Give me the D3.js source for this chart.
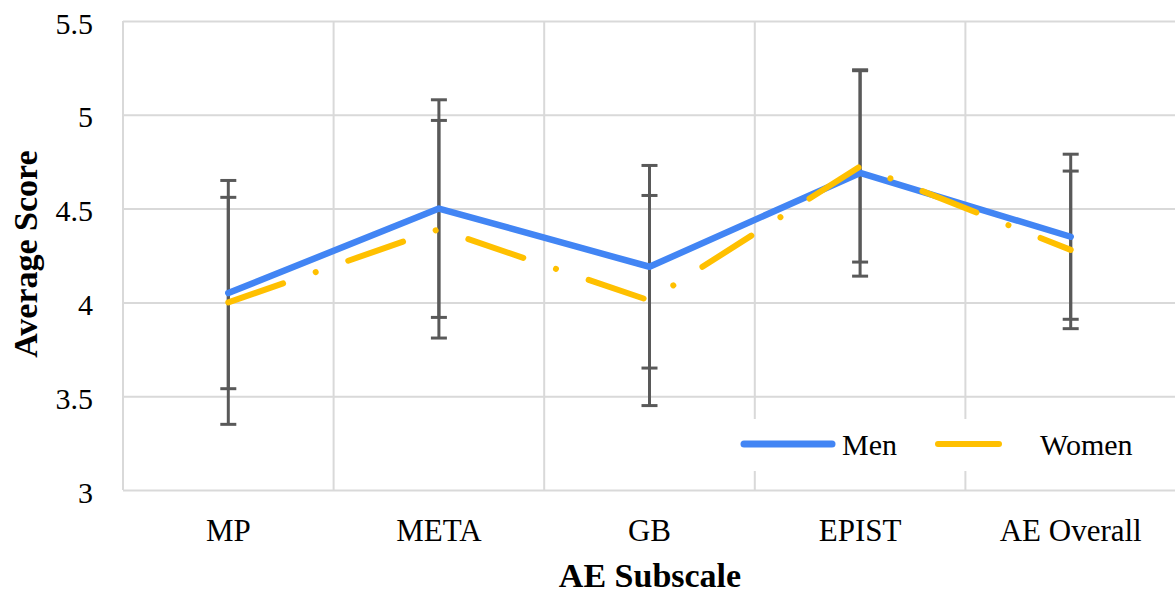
<!DOCTYPE html>
<html>
<head>
<meta charset="utf-8">
<script src="https://cdn.jsdelivr.net/npm/d3@7"></script>
<style>
  html, body { margin: 0; padding: 0; background: #fff; }
  svg { display: block; }
  svg text { font-family: "Liberation Serif", "Times New Roman", serif !important; fill: #000; }
</style>
</head>
<body>
<svg id="chart" width="1175" height="594"></svg>
<script>
// ---- data ----
const categories = ["MP", "META", "GB", "EPIST", "AE Overall"];
const menValues = [4.05, 4.50, 4.19, 4.69, 4.35];
const womenValues = [4.00, 4.39, 4.01, 4.725, 4.28];
const menErrors = [0.51, 0.58, 0.54, 0.55, 0.44];
const womenErrors = [0.65, 0.58, 0.56, 0.51, 0.42];
const yTicks = [3, 3.5, 4, 4.5, 5, 5.5];
const seriesNames = ["Men", "Women"];
const xTitle = "AE Subscale";
const yTitle = "Average Score";

(function () {
  // ---- layout ----
  const mLeft = 123, mRight = 1176, mTop = 21, mBottom = 490;
  const menColor = "#4285F4", womenColor = "#FFC000", errColor = "#595959", gridColor = "#d9d9d9";

  const svg = d3.select("#chart");
  const x = d3.scaleBand().domain(categories).range([mLeft, mRight]).padding(0);
  const y = d3.scaleLinear().domain([3, 5.5]).range([mBottom, mTop]);
  const cx = c => x(c) + x.bandwidth() / 2;

  // horizontal gridlines
  svg.append("g")
    .attr("transform", `translate(${mLeft},0)`)
    .call(d3.axisLeft(y).tickValues(yTicks).tickSize(-(mRight - mLeft)).tickFormat(""))
    .call(g => g.select(".domain").remove())
    .call(g => g.selectAll("line").attr("stroke", gridColor).attr("stroke-width", 2));

  // vertical gridlines at category boundaries
  const bounds = categories.map(c => x(c)).concat([mRight]);
  svg.append("g").selectAll("line").data(bounds).join("line")
    .attr("x1", d => d).attr("x2", d => d)
    .attr("y1", mTop).attr("y2", mBottom)
    .attr("stroke", gridColor).attr("stroke-width", 2);

  // y tick labels
  svg.append("g")
    .attr("transform", `translate(${mLeft},0)`)
    .call(d3.axisLeft(y).tickValues(yTicks).tickSize(0).tickPadding(30).tickFormat(d => String(d)))
    .call(g => g.select(".domain").remove())
    .call(g => g.selectAll("text")
      .attr("font-size", 30).attr("dy", "0.4em"));

  // x tick labels
  svg.append("g")
    .attr("transform", `translate(0,${mBottom})`)
    .call(d3.axisBottom(x).tickSize(0).tickPadding(0))
    .call(g => g.select(".domain").remove())
    .call(g => g.selectAll("text")
      .attr("font-size", 31).attr("y", 51).attr("dy", 0));

  // axis titles
  svg.append("text")
    .attr("text-anchor", "middle")
    .attr("x", 650).attr("y", 587)
    .attr("font-size", 34).attr("font-weight", "bold").text(xTitle);

  svg.append("text")
    .attr("transform", "translate(37,254) rotate(-90)")
    .attr("text-anchor", "middle")
    .attr("font-size", 34).attr("font-weight", "bold").text(yTitle);

  // error bars
  function drawErrors(vals, errs) {
    const g = svg.append("g").attr("stroke", errColor).attr("stroke-width", 3);
    const d = categories.map((c, i) => ({ c, v: vals[i], e: errs[i] }));
    g.selectAll(".v").data(d).join("line").attr("class", "v")
      .attr("x1", k => cx(k.c)).attr("x2", k => cx(k.c))
      .attr("y1", k => y(k.v + k.e)).attr("y2", k => y(k.v - k.e));
    g.selectAll(".cp").data(d).join("line").attr("class", "cp")
      .attr("x1", k => cx(k.c) - 8).attr("x2", k => cx(k.c) + 8)
      .attr("y1", k => y(k.v + k.e)).attr("y2", k => y(k.v + k.e));
    g.selectAll(".cm").data(d).join("line").attr("class", "cm")
      .attr("x1", k => cx(k.c) - 8).attr("x2", k => cx(k.c) + 8)
      .attr("y1", k => y(k.v - k.e)).attr("y2", k => y(k.v - k.e));
  }
  drawErrors(menValues, menErrors);
  drawErrors(womenValues, womenErrors);

  // lines
  const line = d3.line().x(d => cx(d.c)).y(d => y(d.v));
  svg.append("path")
    .datum(categories.map((c, i) => ({ c, v: menValues[i] })))
    .attr("d", line).attr("fill", "none")
    .attr("stroke", menColor).attr("stroke-width", 6.5)
    .attr("stroke-linejoin", "round").attr("stroke-linecap", "round");
  svg.append("path")
    .datum(categories.map((c, i) => ({ c, v: womenValues[i] })))
    .attr("d", line).attr("fill", "none")
    .attr("stroke", womenColor).attr("stroke-width", 6)
    .attr("stroke-linejoin", "round").attr("stroke-linecap", "round")
    .attr("stroke-dasharray", "58 34.5 0.01 34.5");

  // legend
  const lg = svg.append("g");
  lg.append("rect").attr("x", 728).attr("y", 419).attr("width", 425).attr("height", 52).attr("fill", "#fff");
  lg.append("line").attr("x1", 744).attr("x2", 832).attr("y1", 444).attr("y2", 444)
    .attr("stroke", menColor).attr("stroke-width", 7).attr("stroke-linecap", "round");
  lg.append("text").attr("x", 842).attr("y", 455).attr("font-size", 30).text(seriesNames[0]);
  lg.append("line").attr("x1", 938).attr("x2", 999).attr("y1", 444).attr("y2", 444)
    .attr("stroke", womenColor).attr("stroke-width", 6).attr("stroke-linecap", "round");
  lg.append("text").attr("x", 1040).attr("y", 455).attr("font-size", 30).text(seriesNames[1]);
})();
</script>
</body>
</html>
